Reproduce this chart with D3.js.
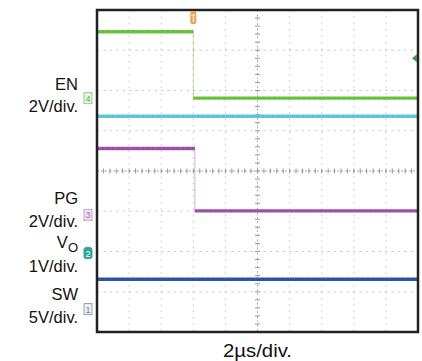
<!DOCTYPE html>
<html><head><meta charset="utf-8">
<script src="https://cdn.jsdelivr.net/npm/d3@7"></script>
<style>html,body{margin:0;padding:0;background:#fff;}svg{display:block;}</style>
</head><body>
<svg id="c" width="422" height="361"></svg>
<script>
// ---- data ----
const timeDomainUs = [-10, 10];          // 2 µs/div, 10 divisions
const divsX = 10, divsY = 8;
const channelNames = ["EN", "PG", "VO", "SW"];
const channelNums = ["4", "3", "2", "1"];
const voltsPerDiv = [2, 2, 1, 5];
const groundDiv = [5.81, 2.91, 1.96, 0.57];  // ground marker position (divisions from bottom)
const enTimes = [-10, -4, -4, 10];
const enVolts = [3.3, 3.3, 0.0, 0.0];
const pgTimes = [-10, -3.9, -3.9, 10];
const pgVolts = [3.3, 3.3, 0.2, 0.2];
const voTimes = [-10, 10];
const voVolts = [3.4, 3.4];
const swTimes = [-10, 10];
const swVolts = [3.7, 3.7];
const triggerTimeUs = -4;
const labelLines = [["EN", "2V/div."], ["PG", "2V/div."], ["VO", "1V/div."], ["SW", "5V/div."]];
const timeLabel = "2µs/div.";

// ---- layout ----
const svg = d3.select("#c");
const L = 97, R = 418, T = 10, B = 332;
const x = d3.scaleLinear().domain(timeDomainUs).range([L, R]);
const y = d3.scaleLinear().domain([0, divsY]).range([B, T]);
const font = "'Liberation Sans', Arial, sans-serif";

// grid
const g = svg.append("g");
const xDiv = d3.range(1, divsX).map(i => timeDomainUs[0] + i * 2);
const yDiv = d3.range(1, divsY);
g.selectAll(".vg").data(xDiv).join("line")
  .attr("x1", d => x(d)).attr("x2", d => x(d)).attr("y1", T).attr("y2", B)
  .attr("stroke", "#c4c4c4").attr("stroke-width", 1).attr("stroke-dasharray", "1.5,4.9");
g.selectAll(".hg").data(yDiv).join("line")
  .attr("y1", d => y(d)).attr("y2", d => y(d)).attr("x1", L).attr("x2", R)
  .attr("stroke", "#c4c4c4").attr("stroke-width", 1).attr("stroke-dasharray", "2,4.4");
// center axes with minor ticks
g.append("line").attr("x1", x(0)).attr("x2", x(0)).attr("y1", T).attr("y2", B)
  .attr("stroke", "#a8a8a8").attr("stroke-dasharray", "1.5,3");
g.append("line").attr("y1", y(4)).attr("y2", y(4)).attr("x1", L).attr("x2", R)
  .attr("stroke", "#a8a8a8").attr("stroke-dasharray", "2,2");
const minorY = d3.range(1, divsY * 5).map(i => i / 5);
g.selectAll(".my").data(minorY).join("line")
  .attr("x1", x(0) - 2.5).attr("x2", x(0) + 2.5).attr("y1", d => y(d)).attr("y2", d => y(d))
  .attr("stroke", "#9a9a9a");
const minorX = d3.range(1, divsX * 5).map(i => timeDomainUs[0] + i * 0.4);
g.selectAll(".mx").data(minorX).join("line")
  .attr("y1", y(4) - 2.5).attr("y2", y(4) + 2.5).attr("x1", d => x(d)).attr("x2", d => x(d))
  .attr("stroke", "#9a9a9a");

// traces
const colors = ["#6cc440", "#a052aa", "#5ccadc", "#2c56a8"];
const series = [
  {t: enTimes, v: enVolts, ch: 0},
  {t: pgTimes, v: pgVolts, ch: 1},
  {t: voTimes, v: voVolts, ch: 2},
  {t: swTimes, v: swVolts, ch: 3}
];
const line = d3.line().x(d => x(d[0])).y(d => y(d[1]));
series.forEach(s => {
  const pts = s.t.map((t, i) => [t, groundDiv[s.ch] + s.v[i] / voltsPerDiv[s.ch]]);
  svg.append("path").attr("d", line(pts)).attr("fill", "none")
    .attr("stroke", colors[s.ch]).attr("stroke-width", 1).attr("opacity", 0.45);
  for (let i = 0; i < pts.length - 1; i++) {
    if (pts[i][1] === pts[i + 1][1]) {
      const seg = [pts[i], pts[i + 1]];
      svg.append("path").attr("d", line(seg)).attr("fill", "none")
        .attr("stroke", colors[s.ch]).attr("stroke-width", 3.4);
      svg.append("path").attr("d", line(seg)).attr("fill", "none")
        .attr("stroke", d3.color(colors[s.ch]).darker(0.5)).attr("stroke-width", 1.2)
        .attr("stroke-dasharray", "2,3").attr("opacity", 0.6);
    }
  }
});

// frame
svg.append("rect").attr("x", L).attr("y", T).attr("width", R - L).attr("height", B - T)
  .attr("fill", "none").attr("stroke", "#222").attr("stroke-width", 2.5);

// trigger marker
svg.append("rect").attr("x", x(triggerTimeUs) - 3).attr("y", T + 1).attr("width", 6).attr("height", 13)
  .attr("rx", 2).attr("fill", "#f0a050");
svg.append("path")
  .attr("d", `M${x(triggerTimeUs) - 2},${T + 5}h4M${x(triggerTimeUs)},${T + 5}v7`)
  .attr("stroke", "#fff").attr("stroke-width", 1).attr("fill", "none");
// trigger level marker on right
svg.append("path").attr("d", `M${R - 1},${y(6.8) - 4}L${R - 6},${y(6.8)}L${R - 1},${y(6.8) + 4}Z`)
  .attr("fill", "#3a9a40");

// channel ground markers
const markerFill = ["#e8f4e4", "#f0e4f2", "#2fa39a", "#eef0f6"];
const markerStroke = ["#9acc90", "#c8a0d0", "#2fa39a", "#9aa0b8"];
const markerText = ["#6aa860", "#a070b0", "#ffffff", "#7880a0"];
channelNums.forEach((n, i) => {
  const cy = y(groundDiv[i]);
  svg.append("rect").attr("x", 84).attr("y", cy - 5.5).attr("width", 8).attr("height", 11)
    .attr("fill", markerFill[i]).attr("stroke", markerStroke[i]).attr("stroke-width", 1)
    .attr("rx", i === 2 ? 2 : 0);
  svg.append("text").attr("x", 88).attr("y", cy + 3.5).attr("text-anchor", "middle")
    .attr("font-family", font).attr("font-size", 9).attr("fill", markerText[i]).text(n);
});

// labels
const fs = 16.5;
const labelBase = [[90, 112], [204, 227], [248, 272], [300, 323]];
labelLines.forEach((ln, i) => {
  if (ln[0] === "VO") {
    const t = svg.append("text").attr("x", 78).attr("y", labelBase[i][0]).attr("text-anchor", "end")
      .attr("font-family", font).attr("font-size", fs).attr("fill", "#111");
    t.append("tspan").text("V");
    t.append("tspan").attr("dy", 4).attr("font-size", 13).text("O");
  } else {
    svg.append("text").attr("x", 78).attr("y", labelBase[i][0]).attr("text-anchor", "end")
      .attr("font-family", font).attr("font-size", fs).attr("fill", "#111").text(ln[0]);
  }
  svg.append("text").attr("x", 78).attr("y", labelBase[i][1]).attr("text-anchor", "end")
    .attr("font-family", font).attr("font-size", fs).attr("fill", "#111").text(ln[1]);
});
svg.append("text").attr("x", 223).attr("y", 357)
  .attr("font-family", font).attr("font-size", 18).attr("fill", "#111")
  .attr("textLength", 69).attr("lengthAdjust", "spacingAndGlyphs").text(timeLabel);
</script>
</body></html>
